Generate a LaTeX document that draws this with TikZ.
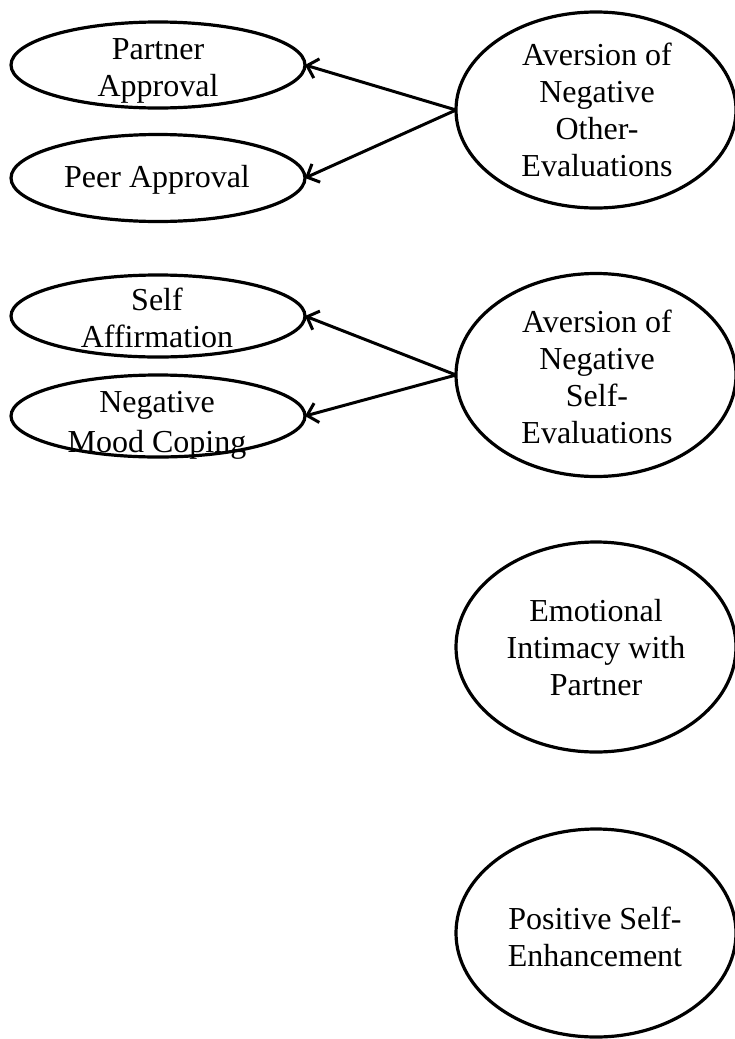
\documentclass[tikz,border=0pt]{standalone}
\usepackage{fontspec}
\setmainfont{Liberation Serif}
\usetikzlibrary{shapes.geometric,arrows.meta}
\begin{document}
\begin{tikzpicture}[x=1pt,y=-1pt,
  ell/.style={draw, ellipse, line width=3.2pt, inner sep=0pt, outer sep=0pt},
  lbl/.style={align=center, font=\fontsize{32}{37}\selectfont, inner sep=0pt},
  arr/.style={-{Straight Barb[length=10pt,width=20pt]}, line width=3pt}]
\useasboundingbox (0,0) rectangle (735,1039);
% left ellipses
\node[ell, minimum width=294pt, minimum height=86pt] (pa) at (158,65) {};
\node[ell, minimum width=294pt, minimum height=87pt] (peer) at (158,178) {};
\node[ell, minimum width=294pt, minimum height=82pt] (sa) at (158,316) {};
\node[ell, minimum width=294pt, minimum height=82pt] (nmc) at (158,416) {};
% right ellipses
\node[ell, minimum width=280pt, minimum height=196pt] (aoe) at (596,110) {};
\node[ell, minimum width=280pt, minimum height=203pt] (ase) at (596,375) {};
\node[ell, minimum width=280pt, minimum height=210pt] (emo) at (596,647) {};
\node[ell, minimum width=280pt, minimum height=208pt] (pos) at (596,933) {};
% labels
\node[lbl] (pa-t) at (158,71) {Partner\\Approval};
\node[lbl] (peer-t) at (157,180) {Peer Approval};
\node[lbl] (sa-t) at (157,318) {Self\\Affirmation};
\node[lbl] (nmc-t) at (157,425) {Negative\\[3pt]Mood Coping};
\node[lbl] (aoe-t) at (597,110) {Aversion of\\Negative\\Other-\\Evaluations};
\node[lbl] (ase-t) at (597,377) {Aversion of\\Negative\\Self-\\Evaluations};
\node[lbl] (emo-t) at (596,648) {Emotional\\Intimacy with\\Partner};
\node[lbl] (pos-t) at (595,937) {Positive Self-\\Enhancement};
% connectors
\draw[arr] (aoe.west) -- (pa.east);
\draw[arr] (aoe.west) -- (peer.east);
\draw[arr] (ase.west) -- (sa.east);
\draw[arr] (ase.west) -- (nmc.east);
\end{tikzpicture}
\end{document}
